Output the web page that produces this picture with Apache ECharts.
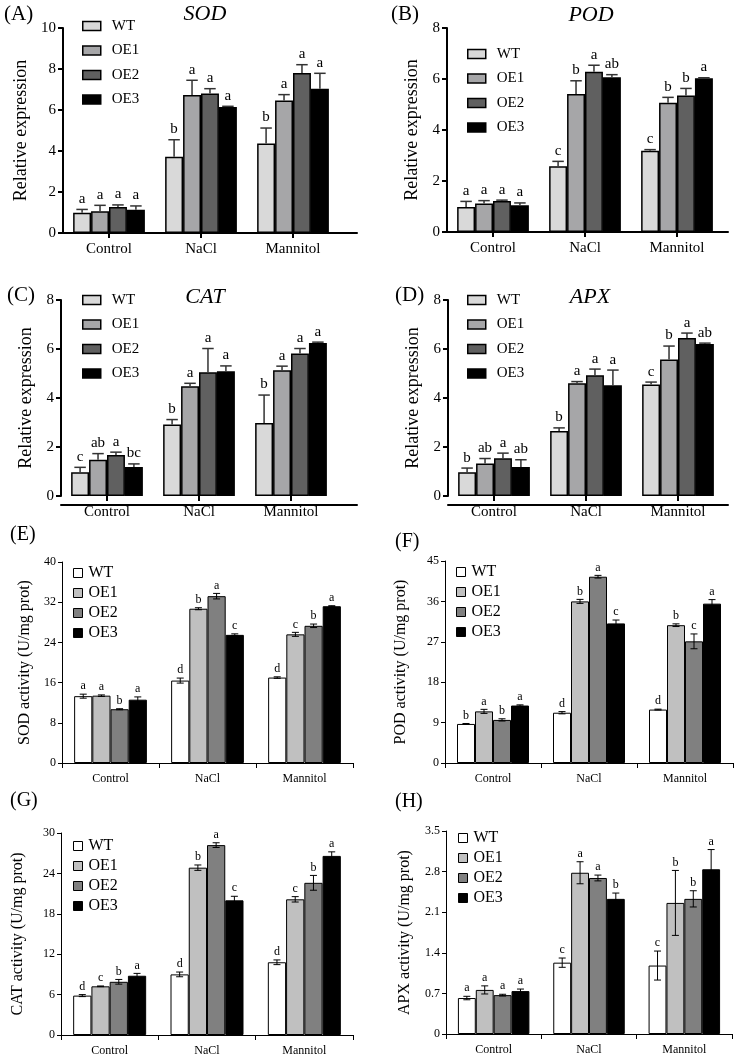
<!DOCTYPE html>
<html><head><meta charset="utf-8">
<script src="https://cdn.jsdelivr.net/npm/echarts@6/dist/echarts.min.js"></script>
<style>
html,body{margin:0;padding:0;background:#fff;width:737px;height:1058px;overflow:hidden;position:relative}
.p{position:absolute}
</style></head><body>
<div id="pA" class="p" style="left:0;top:0;width:370px;height:262px"></div>
<div id="pB" class="p" style="left:370px;top:0;width:367px;height:262px"></div>
<div id="pC" class="p" style="left:0;top:255px;width:370px;height:265px"></div>
<div id="pD" class="p" style="left:370px;top:255px;width:367px;height:265px"></div>
<div id="pE" class="p" style="left:0;top:520px;width:370px;height:265px"></div>
<div id="pF" class="p" style="left:370px;top:520px;width:367px;height:265px"></div>
<div id="pG" class="p" style="left:0;top:785px;width:370px;height:273px"></div>
<div id="pH" class="p" style="left:370px;top:785px;width:367px;height:273px"></div>
<script>
const categories = ['Control', 'NaCl', 'Mannitol'];
const lines = ['WT', 'OE1', 'OE2', 'OE3'];

// rows = lines (WT, OE1, OE2, OE3), columns = categories
// (A) SOD relative expression
const sodExprMean = [[0.99, 3.72, 4.36], [1.06, 6.73, 6.46], [1.27, 6.80, 7.80], [1.14, 6.15, 7.04]];
const sodExprErr  = [[0.16, 0.83, 0.76], [0.29, 0.72, 0.29], [0.10, 0.24, 0.41], [0.18, 0.03, 0.75]];
const sodExprSig  = [['a', 'b', 'b'], ['a', 'a', 'a'], ['a', 'a', 'a'], ['a', 'a', 'a']];
const sodExprTicks = [0, 10, 2];
// (B) POD relative expression
const podExprMean = [[0.98, 2.58, 3.19], [1.12, 5.41, 5.07], [1.22, 6.28, 5.35], [1.05, 6.07, 6.03]];
const podExprErr  = [[0.22, 0.19, 0.04], [0.11, 0.52, 0.21], [0.03, 0.26, 0.28], [0.09, 0.10, 0.02]];
const podExprSig  = [['a', 'c', 'c'], ['a', 'b', 'b'], ['a', 'a', 'b'], ['a', 'ab', 'a']];
const podExprTicks = [0, 8, 2];
// (C) CAT relative expression
const catExprMean = [[0.97, 2.92, 2.98], [1.48, 4.48, 5.13], [1.67, 5.05, 5.82], [1.18, 5.09, 6.24]];
const catExprErr  = [[0.20, 0.20, 1.14], [0.25, 0.12, 0.17], [0.12, 0.97, 0.20], [0.13, 0.22, 0.04]];
const catExprSig  = [['c', 'b', 'b'], ['ab', 'a', 'a'], ['a', 'a', 'a'], ['bc', 'a', 'a']];
const catExprTicks = [0, 8, 2];
// (D) APX relative expression
const apxExprMean = [[0.97, 2.65, 4.55], [1.33, 4.60, 5.57], [1.54, 4.93, 6.45], [1.18, 4.52, 6.20]];
const apxExprErr  = [[0.17, 0.13, 0.10], [0.20, 0.07, 0.55], [0.21, 0.25, 0.20], [0.30, 0.62, 0.04]];
const apxExprSig  = [['b', 'b', 'c'], ['ab', 'a', 'b'], ['a', 'a', 'a'], ['ab', 'a', 'ab']];
const apxExprTicks = [0, 8, 2];
// (E) SOD activity
const sodActMean = [[13.3, 16.4, 17.0], [13.4, 30.7, 25.6], [10.7, 33.2, 27.3], [12.6, 25.5, 31.2]];
const sodActErr  = [[0.4, 0.5, 0.15], [0.15, 0.2, 0.4], [0.1, 0.55, 0.35], [0.55, 0.2, 0.1]];
const sodActSig  = [['a', 'd', 'd'], ['a', 'b', 'c'], ['b', 'a', 'b'], ['a', 'c', 'a']];
const sodActTicks = [0, 40, 8];
// (F) POD activity
const podActMean = [[8.7, 11.2, 11.9], [11.5, 36.0, 30.7], [9.6, 41.5, 27.1], [12.8, 31.1, 35.5]];
const podActErr  = [[0.1, 0.25, 0.1], [0.45, 0.45, 0.3], [0.25, 0.3, 1.65], [0.15, 0.75, 0.9]];
const podActSig  = [['b', 'd', 'd'], ['a', 'b', 'b'], ['b', 'a', 'c'], ['a', 'c', 'a']];
const podActTicks = [0, 45, 9];
// (G) CAT activity
const catActMean = [[5.85, 9.0, 10.8], [7.23, 24.85, 20.15], [7.9, 28.2, 22.6], [8.8, 20.0, 26.6]];
const catActErr  = [[0.15, 0.35, 0.35], [0.05, 0.4, 0.4], [0.35, 0.35, 1.1], [0.35, 0.6, 0.6]];
const catActSig  = [['d', 'd', 'd'], ['c', 'b', 'c'], ['b', 'a', 'b'], ['a', 'c', 'a']];
const catActTicks = [0, 30, 6];
// (H) APX activity
const apxActMean = [[0.62, 1.23, 1.18], [0.76, 2.78, 2.26], [0.67, 2.69, 2.33], [0.74, 2.33, 2.84]];
const apxActErr  = [[0.03, 0.08, 0.25], [0.07, 0.19, 0.56], [0.015, 0.05, 0.14], [0.035, 0.1, 0.34]];
const apxActSig  = [['a', 'c', 'c'], ['a', 'a', 'b'], ['a', 'a', 'b'], ['a', 'b', 'a']];
const apxActTicks = [0, 3.5, 0.7];

const FONT = '"Liberation Serif", "Times New Roman", serif';

function makePanel(id, sp) {
  const prism = sp.kind === 'prism';
  const chart = echarts.init(document.getElementById(id));
  const colors = prism ? ['#d9d9d9', '#a6a6a8', '#606060', '#000000'] : ['#ffffff', '#c0c0c0', '#808080', '#000000'];
  const gapFrac = prism ? 0.22 : 0.25;
  const rows = [];
  for (let s = 0; s < 4; s++) for (let c = 0; c < 3; c++) {
    rows.push({ c, s, v: sp.mean[s][c], up: sp.err[s][c], dn: prism ? 0 : sp.err[s][c], t: sp.sig[s][c] });
  }
  const letterFont = prism ? '15px ' + FONT : '12px ' + FONT;
  const renderItem = function (params, api) {
    const d = rows[params.dataIndex];
    const band = api.size([1, 0])[0];
    const groupW = band * (1 - gapFrac);
    const bw = groupW / 4;
    const cx = api.coord([d.c, 0])[0] - groupW / 2 + (d.s + 0.5) * bw;
    const yTop = api.coord([d.c, d.v + d.up])[1];
    const yBot = api.coord([d.c, d.v - d.dn])[1];
    const stroke = prism ? '#333' : '#000';
    const lw = prism ? 1.5 : 1;
    const half = prism ? bw * 0.32 : 3.5;
    const ch = [
      { type: 'line', shape: { x1: cx, y1: yBot, x2: cx, y2: yTop }, style: { stroke, lineWidth: lw } },
      { type: 'line', shape: { x1: cx - half, y1: yTop, x2: cx + half, y2: yTop }, style: { stroke, lineWidth: lw } }
    ];
    if (!prism) ch.push({ type: 'line', shape: { x1: cx - half, y1: yBot, x2: cx + half, y2: yBot }, style: { stroke, lineWidth: lw } });
    ch.push({ type: 'text', style: { text: d.t, x: cx, y: yTop - (prism ? 3 : 2), align: 'center', verticalAlign: 'bottom', font: letterFont, fill: '#000' } });
    return { type: 'group', children: ch };
  };
  const g = Object.assign({ containLabel: false }, sp.grid);
  const grids = [g];
  const xAxes = [];
  const yAxes = [];
  const yBase = {
    type: 'value', gridIndex: 0, min: sp.ticks[0], max: sp.ticks[1], interval: sp.ticks[2],
    splitLine: { show: false },
    name: sp.yName, nameLocation: 'middle', nameGap: sp.yNameGap,
    nameTextStyle: { fontSize: prism ? 18 : 16, fontFamily: FONT, color: '#000' }
  };
  if (prism) {
    grids.push(Object.assign({}, g, { width: sp.axisExt }));
    xAxes.push({
      type: 'category', gridIndex: 0, data: categories,
      axisLine: { show: false },
      axisTick: { show: true, alignWithLabel: true, length: 5, lineStyle: { color: '#000', width: 2 } },
      axisLabel: { color: '#000', fontSize: 15, fontFamily: FONT, margin: 9 }
    });
    xAxes.push({
      type: 'value', gridIndex: 1, min: 0, max: 1,
      axisLine: { show: true, onZero: false, lineStyle: { color: '#000', width: 2 } },
      axisTick: { show: false }, axisLabel: { show: false }, splitLine: { show: false }
    });
    yAxes.push(Object.assign(yBase, {
      axisLine: { show: true, lineStyle: { color: '#000', width: 2 } },
      axisTick: { show: true, length: 5, lineStyle: { color: '#000', width: 2 } },
      axisLabel: { color: '#000', fontSize: 15, fontFamily: FONT, margin: 7 }
    }));
    yAxes.push({ type: 'value', gridIndex: 1, min: 0, max: 1, show: false });
  } else {
    xAxes.push({
      type: 'category', gridIndex: 0, data: categories,
      axisLine: { show: true, lineStyle: { color: '#000', width: 1 } },
      axisTick: { show: true, alignWithLabel: false, interval: 0, length: 5, lineStyle: { color: '#000', width: 1 } },
      axisLabel: { color: '#000', fontSize: 12, fontFamily: FONT, margin: 10 }
    });
    yAxes.push(Object.assign(yBase, {
      axisLine: { show: true, lineStyle: { color: '#000', width: 1 } },
      axisTick: { show: true, length: 4, lineStyle: { color: '#000', width: 1 } },
      axisLabel: { color: '#000', fontSize: 12, fontFamily: FONT, margin: 6 }
    }));
  }
  const series = lines.map((n, s) => ({
    type: 'bar', name: n, xAxisIndex: 0, yAxisIndex: 0, data: sp.mean[s],
    barGap: '0%', barCategoryGap: (gapFrac * 100) + '%',
    itemStyle: { color: colors[s], borderColor: '#000', borderWidth: prism ? 1.5 : 1 },
    emphasis: { disabled: true }, silent: true
  }));
  series.push({
    type: 'custom', xAxisIndex: 0, yAxisIndex: 0, z: 10, silent: true,
    data: rows.map(r => [r.c, r.v + r.up]), renderItem
  });
  const titles = [{
    text: sp.tag, left: sp.tagPos[0], top: sp.tagPos[1], padding: 0,
    textStyle: { fontSize: prism ? 21 : 20, fontWeight: 'normal', fontFamily: FONT, color: '#000' }
  }];
  if (sp.title) titles.push({
    text: sp.title, left: sp.titlePos[0], top: sp.titlePos[1], textAlign: 'center', padding: 0,
    textStyle: { fontSize: 22, fontStyle: 'italic', fontWeight: 'normal', fontFamily: FONT, color: '#000' }
  });
  const legFs = prism ? 15 : 16;
  const legend = {
    orient: 'vertical', left: sp.legendPos[0], top: sp.legendPos[1], padding: 0,
    icon: 'rect', selectedMode: false, data: lines,
    itemWidth: prism ? 18 : 9, itemHeight: 9, itemGap: prism ? 8.5 : 4,
    itemStyle: { borderColor: '#000', borderWidth: prism ? 1.5 : 1 },
    formatter: function (n) { return '{t|' + n + '}'; },
    textStyle: {
      fontSize: legFs, lineHeight: 16, fontFamily: FONT, color: '#000',
      rich: { t: { fontSize: legFs, lineHeight: 16, fontFamily: FONT, color: '#000', padding: [0, 0, 0, prism ? 6 : 1] } }
    }
  };
  chart.setOption({
    animation: false, backgroundColor: '#fff',
    textStyle: { fontFamily: FONT, color: '#000' },
    title: titles, legend, grid: grids, xAxis: xAxes, yAxis: yAxes, series
  });
}

makePanel('pA', { kind: 'prism', mean: sodExprMean, err: sodExprErr, sig: sodExprSig, ticks: sodExprTicks,
  grid: { left: 63, top: 28, width: 276, height: 205 }, axisExt: 294, yName: 'Relative expression', yNameGap: 32,
  legendPos: [82, 18], tag: '(A)', tagPos: [4, 4], title: 'SOD', titlePos: [205, 3] });
makePanel('pB', { kind: 'prism', mean: podExprMean, err: podExprErr, sig: podExprSig, ticks: podExprTicks,
  grid: { left: 77, top: 28, width: 276, height: 204 }, axisExt: 281, yName: 'Relative expression', yNameGap: 25,
  legendPos: [97, 46], tag: '(B)', tagPos: [21, 4], title: 'POD', titlePos: [221, 4] });
makePanel('pC', { kind: 'prism', mean: catExprMean, err: catExprErr, sig: catExprSig, ticks: catExprTicks,
  grid: { left: 61, top: 45, width: 276, height: 205 }, axisExt: 296, yName: 'Relative expression', yNameGap: 25,
  legendPos: [82, 37], tag: '(C)', tagPos: [7, 30], title: 'CAT', titlePos: [205, 31] });
makePanel('pD', { kind: 'prism', mean: apxExprMean, err: apxExprErr, sig: apxExprSig, ticks: apxExprTicks,
  grid: { left: 78, top: 45, width: 276, height: 205 }, axisExt: 280, yName: 'Relative expression', yNameGap: 26,
  legendPos: [97, 37], tag: '(D)', tagPos: [25, 30], title: 'APX', titlePos: [220, 31] });
makePanel('pE', { kind: 'excel', mean: sodActMean, err: sodActErr, sig: sodActSig, ticks: sodActTicks,
  grid: { left: 62, top: 42, width: 291, height: 203 }, yName: 'SOD activity (U/mg prot)', yNameGap: 29,
  legendPos: [73, 45], tag: '(E)', tagPos: [10, 5] });
makePanel('pF', { kind: 'excel', mean: podActMean, err: podActErr, sig: podActSig, ticks: podActTicks,
  grid: { left: 75, top: 41, width: 288, height: 203 }, yName: 'POD activity (U/mg prot)', yNameGap: 36,
  legendPos: [86, 44], tag: '(F)', tagPos: [25, 12] });
makePanel('pG', { kind: 'excel', mean: catActMean, err: catActErr, sig: catActSig, ticks: catActTicks,
  grid: { left: 61, top: 48, width: 292, height: 202 }, yName: 'CAT activity (U/mg prot)', yNameGap: 35,
  legendPos: [73, 53], tag: '(G)', tagPos: [10, 6] });
makePanel('pH', { kind: 'excel', mean: apxActMean, err: apxActErr, sig: apxActSig, ticks: apxActTicks,
  grid: { left: 76, top: 46, width: 286, height: 203 }, yName: 'APX activity (U/mg prot)', yNameGap: 33,
  legendPos: [88, 45], tag: '(H)', tagPos: [25, 7] });
</script>
</body></html>
